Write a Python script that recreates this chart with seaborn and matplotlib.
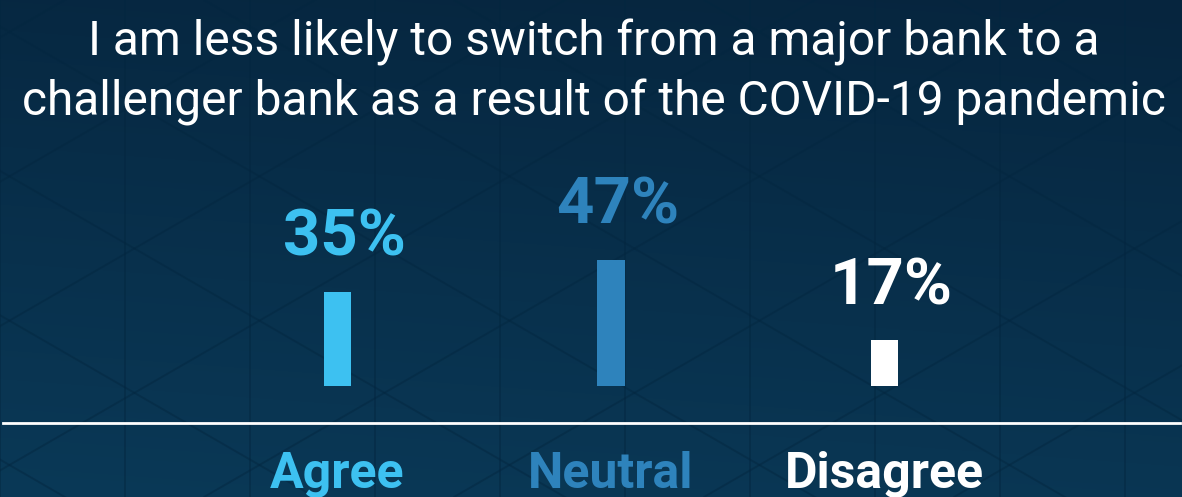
import numpy as np
import pandas as pd
import matplotlib
matplotlib.use("Agg")
import matplotlib.pyplot as plt
import seaborn as sns

# ---- data ----
categories = ["Agree", "Neutral", "Disagree"]
values = [35, 47, 17]
value_labels = ["35%", "47%", "17%"]
colors = ["#3DC1F1", "#2E83BC", "#FFFFFF"]
title_lines = ["I am less likely to switch from a major bank to a",
               "challenger bank as a result of the COVID-19 pandemic"]

sns.set_theme(style="white")
plt.rcParams["font.family"] = ["Roboto", "DejaVu Sans"]

W, H = 1182, 497
fig = plt.figure(figsize=(W / 100, H / 100), dpi=100)

# background gradient (pixel coordinates)
bg = fig.add_axes([0, 0, 1, 1])
bg.set_axis_off()
yy = np.linspace(0, 1, 200)[:, None]
xx = np.linspace(0, 1, 300)[None, :]
top = np.array([6, 37, 62]) / 255
bot = np.array([10, 57, 87]) / 255
t = np.clip(yy * 0.85 + (1 - xx) * 0.15, 0, 1)
grad = top[None, None, :] * (1 - t[..., None]) + bot[None, None, :] * t[..., None]
bg.imshow(grad, aspect="auto", extent=[0, W, H, 0], interpolation="bilinear")
# faint decorative lattice
line_kw = dict(color="#03263f", alpha=0.45, lw=1.4, zorder=1)
step = 250
for x0 in np.arange(-2 * step, W + 2 * step, step / 2):
    bg.plot([x0, x0], [0, H], **line_kw)
slope = np.tan(np.radians(30))
for x0 in np.arange(-3 * W, 3 * W, step):
    bg.plot([x0, x0 + 2 * W], [0, 2 * W * slope], **line_kw)
    bg.plot([x0, x0 + 2 * W], [H, H - 2 * W * slope], **line_kw)
bg.set_xlim(0, W)
bg.set_ylim(H, 0)

# main axes: bottom edge = white rule
ax = fig.add_axes([3 / W, 74 / H, 1177 / W, 423 / H])
ax.patch.set_alpha(0)
df = pd.DataFrame({"category": categories, "value": values})
sns.barplot(data=df, x="category", y="value", hue="category",
            palette=colors, width=0.1, legend=False, ax=ax, saturation=1,
            linewidth=0, edgecolor="none")

ax.set_xlim(-1.223, 3.080)
ax.set_ylim(-13.75, 143.5)
for s in ["top", "left", "right"]:
    ax.spines[s].set_visible(False)
ax.spines["bottom"].set_color("white")
ax.spines["bottom"].set_linewidth(2)
ax.set_yticks([])
ax.set_xlabel("")
ax.set_ylabel("")
ax.tick_params(axis="x", length=0, pad=20)
ax.set_xticks(range(len(categories)))
ax.set_xticklabels(categories, fontsize=36, fontweight="bold")
for lbl, c in zip(ax.get_xticklabels(), colors):
    lbl.set_color(c)

# value labels
for i, (v, txt, c) in enumerate(zip(values, value_labels, colors)):
    ax.annotate(txt, xy=(i, v), xytext=(5, 26), textcoords="offset points",
                ha="center", va="baseline", fontsize=47, fontweight="bold",
                color=c)

# title
fig.text(594 / W, 1 - 56 / H, title_lines[0], ha="center", va="baseline",
         fontsize=34.5, color="white")
fig.text(594 / W, 1 - 115 / H, title_lines[1], ha="center", va="baseline",
         fontsize=34.5, color="white")

fig.savefig("out.png", dpi=100)
